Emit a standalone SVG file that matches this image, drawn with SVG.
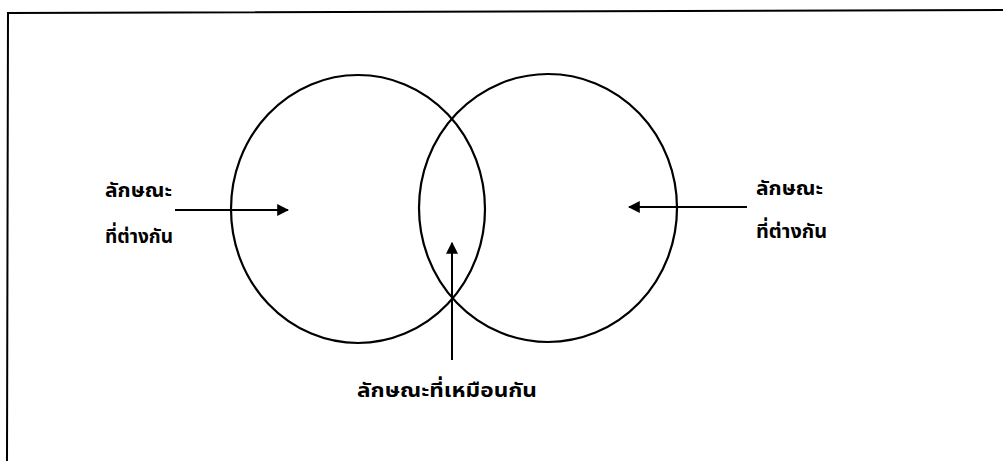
<svg xmlns="http://www.w3.org/2000/svg" width="1003" height="461" viewBox="0 0 1003 461">
<style>
.c{fill:none;stroke:#000;stroke-width:2.2}
.l{stroke:#000;stroke-width:2;fill:none}
.t{font-family:"Noto Sans Thai","Noto Sans","DejaVu Sans",sans-serif;font-size:20px;font-weight:bold;fill:#000}
</style>
<defs>
<marker id="ah" viewBox="0 0 10 10" refX="9" refY="5" markerWidth="6" markerHeight="6" markerUnits="strokeWidth" orient="auto">
<path d="M0,0 L10,5 L0,10 z" fill="#000"/>
</marker>
</defs>
<rect width="1003" height="461" fill="#fff"/>
<g id="frame"><polyline class="l" points="1003,10 8,13 7,461" stroke-width="2.5"/></g>
<g id="left-circle"><ellipse class="c" cx="358" cy="209" rx="127" ry="134"/></g>
<g id="right-circle"><ellipse class="c" cx="548" cy="208" rx="129" ry="134"/></g>
<g id="connectors">
<line class="l" x1="175" y1="210" x2="288" y2="210" marker-end="url(#ah)"/>
<line class="l" x1="747" y1="207" x2="629" y2="207" marker-end="url(#ah)"/>
<line class="l" x1="452" y1="360" x2="452" y2="243" marker-end="url(#ah)"/>
</g>
<g id="label-left">
<text class="t" x="105" y="197" textLength="67" lengthAdjust="spacingAndGlyphs">ลักษณะ</text>
<text class="t" x="105" y="243" textLength="68" lengthAdjust="spacingAndGlyphs">ที่ต่างกัน</text>
</g>
<g id="label-right">
<text class="t" x="756" y="195" textLength="67" lengthAdjust="spacingAndGlyphs">ลักษณะ</text>
<text class="t" x="756" y="238" textLength="71" lengthAdjust="spacingAndGlyphs">ที่ต่างกัน</text>
</g>
<g id="label-bottom">
<text class="t" x="357" y="397" textLength="180" lengthAdjust="spacingAndGlyphs">ลักษณะที่เหมือนกัน</text>
</g>
</svg>
